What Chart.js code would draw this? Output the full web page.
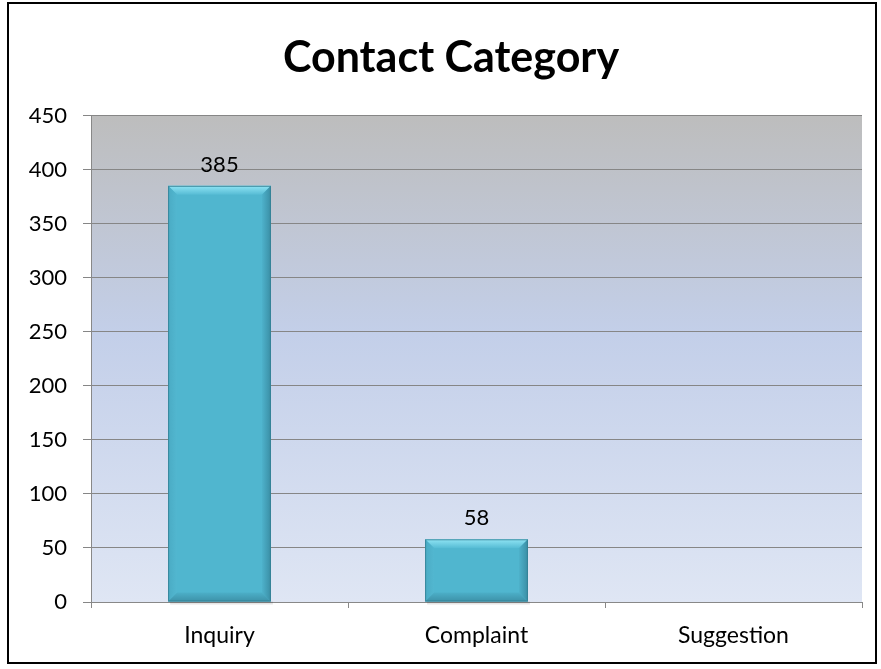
<!DOCTYPE html>
<html>
<head>
<meta charset="utf-8">
<script src="https://cdn.jsdelivr.net/npm/chart.js@4.4.1/dist/chart.umd.min.js"></script>
<style>
  html, body { margin: 0; padding: 0; background: #fff; }
  #wrap { position: relative; width: 881px; height: 669px; }
  #frame { position: absolute; left: 7px; top: 2px; width: 870px; height: 662px; border: 2px solid #000; box-sizing: border-box; pointer-events: none; }
</style>
</head>
<body>
<div id="wrap">
  <canvas id="chart" width="881" height="669"></canvas>
  <div id="frame"></div>
</div>
<script>
const categories = ['Inquiry', 'Complaint', 'Suggestion'];
const contactCounts = [385, 58, null];
const yTicks = [0, 50, 100, 150, 200, 250, 300, 350, 400, 450];

const FONT = 'Lato, "Open Sans", sans-serif';

// gradient fill behind the plot, like the Excel plot area
const plotBackground = {
  id: 'plotBackground',
  afterLayout(chart) {
    // title sits centred on the whole frame, not the padded area
    if (chart.titleBlock) {
      chart.titleBlock.left += 32;
      chart.titleBlock.right += 0;
    }
  },
  beforeDraw(chart) {
    const { ctx, chartArea: a } = chart;
    const g = ctx.createLinearGradient(0, a.top, 0, a.bottom);
    g.addColorStop(0, '#bdbdbd');
    g.addColorStop(0.45, '#c3cfe9');
    g.addColorStop(1, '#dfe6f4');
    ctx.save();
    ctx.fillStyle = g;
    ctx.fillRect(a.left, a.top, a.right - a.left, a.bottom - a.top);
    ctx.restore();
  }
};

// bevel edges on the bars and value labels above them
const bevelBars = {
  id: 'bevelBars',
  afterDatasetsDraw(chart) {
    const ctx = chart.ctx;
    const meta = chart.getDatasetMeta(0);
    meta.data.forEach((bar, i) => {
      const v = contactCounts[i];
      if (v == null) return;
      const l = bar.x - bar.width / 2, r = bar.x + bar.width / 2;
      const t = bar.y, b = bar.base;
      const d = Math.min(9, (b - t) / 2);
      ctx.save();
      const poly = (pts, fill) => {
        ctx.beginPath();
        ctx.moveTo(pts[0][0], pts[0][1]);
        pts.slice(1).forEach(p => ctx.lineTo(p[0], p[1]));
        ctx.closePath();
        ctx.fillStyle = fill;
        ctx.fill();
      };
      // soft shadow under the bar
      ctx.fillStyle = 'rgba(0,0,0,0.10)';
      ctx.fillRect(l + 2, b, r - l, 3);
      const top = ctx.createLinearGradient(0, t, 0, t + d);
      top.addColorStop(0, '#8fe4f4');
      top.addColorStop(1, '#55bbd4');
      poly([[l, t], [r, t], [r - d, t + d], [l + d, t + d]], top);
      const left = ctx.createLinearGradient(l, 0, l + d, 0);
      left.addColorStop(0, '#4aabc4');
      left.addColorStop(1, '#52b7d0');
      poly([[l, t], [l + d, t + d], [l + d, b - d], [l, b]], left);
      const right = ctx.createLinearGradient(r - d, 0, r, 0);
      right.addColorStop(0, '#4eb2cb');
      right.addColorStop(1, '#3a8ea5');
      poly([[r, t], [r, b], [r - d, b - d], [r - d, t + d]], right);
      const bottom = ctx.createLinearGradient(0, b - d, 0, b);
      bottom.addColorStop(0, '#4cafc8');
      bottom.addColorStop(1, '#3d91a8');
      poly([[l, b], [l + d, b - d], [r - d, b - d], [r, b]], bottom);
      ctx.strokeStyle = 'rgba(50,125,145,0.8)';
      ctx.lineWidth = 1;
      ctx.strokeRect(l + 0.5, t + 0.5, r - l - 1, b - t - 1);
      ctx.fillStyle = '#000';
      ctx.font = '22px ' + FONT;
      ctx.textAlign = 'center';
      ctx.textBaseline = 'bottom';
      ctx.fillText(String(v), bar.x, t - 10);
      ctx.restore();
    });
  }
};

new Chart(document.getElementById('chart'), {
  type: 'bar',
  data: {
    labels: categories,
    datasets: [{
      data: contactCounts,
      backgroundColor: '#50b6cf',
      borderWidth: 0,
      barPercentage: 0.4,
      categoryPercentage: 1
    }]
  },
  options: {
    responsive: false,
    animation: false,
    layout: { padding: { left: 8, right: 19, bottom: 17, top: 0 } },
    plugins: {
      legend: { display: false },
      tooltip: { enabled: false },
      title: {
        display: true,
        text: 'Contact Category',
        color: '#000',
        font: { family: FONT, size: 43, weight: 'bold', lineHeight: 1.2 },
        padding: { top: 32, bottom: 32 }
      }
    },
    scales: {
      x: {
        grid: { display: true, drawOnChartArea: false, drawTicks: true, tickLength: 6, color: '#888', offset: true },
        border: { color: '#888', width: 1 },
        ticks: { color: '#000', font: { family: FONT, size: 23 }, padding: 14 },
        afterFit(scale) { scale.height = 50; }
      },
      y: {
        min: 0,
        max: 450,
        afterBuildTicks(scale) { scale.ticks = yTicks.map(v => ({ value: v })); },
        grid: { color: '#868686', tickLength: 8, lineWidth: 1 },
        border: { color: '#888', width: 1 },
        ticks: { color: '#000', font: { family: FONT, size: 22 }, padding: 16 },
        afterFit(scale) { scale.width = 83; }
      }
    }
  },
  plugins: [plotBackground, bevelBars]
});
</script>
</body>
</html>
